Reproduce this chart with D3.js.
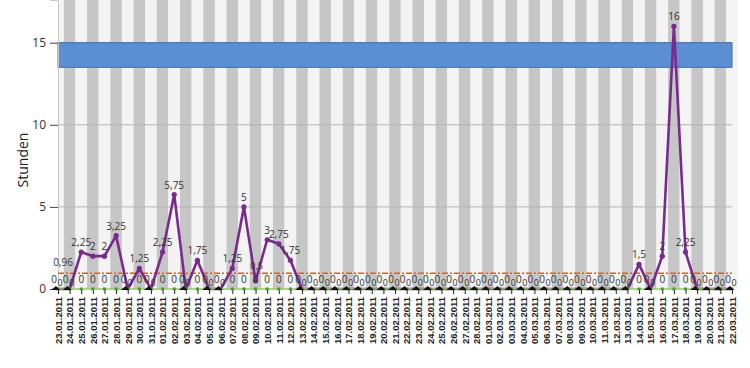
<!DOCTYPE html>
<html>
<head>
<meta charset="utf-8">
<script src="https://cdn.jsdelivr.net/npm/d3@7"></script>
<style>
  body { margin: 0; background: #fff; }
  svg { display: block; }
</style>
</head>
<body>
<div id="vis"></div>
<script>
// chart data
const DAYS = ["23.01.2011","24.01.2011","25.01.2011","26.01.2011","27.01.2011","28.01.2011","29.01.2011",
  "30.01.2011","31.01.2011","01.02.2011","02.02.2011","03.02.2011","04.02.2011","05.02.2011","06.02.2011",
  "07.02.2011","08.02.2011","09.02.2011","10.02.2011","11.02.2011","12.02.2011","13.02.2011","14.02.2011",
  "15.02.2011","16.02.2011","17.02.2011","18.02.2011","19.02.2011","20.02.2011","21.02.2011","22.02.2011",
  "23.02.2011","24.02.2011","25.02.2011","26.02.2011","27.02.2011","28.02.2011","01.03.2011","02.03.2011",
  "03.03.2011","04.03.2011","05.03.2011","06.03.2011","07.03.2011","08.03.2011","09.03.2011","10.03.2011",
  "11.03.2011","12.03.2011","13.03.2011","14.03.2011","15.03.2011","16.03.2011","17.03.2011","18.03.2011",
  "19.03.2011","20.03.2011","21.03.2011","22.03.2011"];
const HOURS = [0, 0, 2.25, 2, 2, 3.25, 0, 1.25, 0, 2.25, 5.75, 0, 1.75, 0, 0, 1.25, 5, 0.5, 3, 2.75, 1.75, 0,
  0, 0, 0, 0, 0, 0, 0, 0, 0, 0, 0, 0, 0, 0, 0, 0, 0, 0, 0, 0, 0, 0, 0, 0, 0, 0, 0, 0,
  1.5, 0, 2, 16, 2.25, 0, 0, 0, 0];
const BASE = [0, 0, 0, 0, 0, 0, 0, 0, 0, 0, 0, 0, 0, 0, 0, 0, 0, 0, 0, 0, 0, 0, 0, 0, 0, 0, 0, 0, 0, 0,
  0, 0, 0, 0, 0, 0, 0, 0, 0, 0, 0, 0, 0, 0, 0, 0, 0, 0, 0, 0, 0, 0, 0, 0, 0, 0, 0, 0, 0];
const AVERAGE = 0.96;
const TARGET_BAND = [13.5, 15];
const Y_TICKS = [0, 5, 10, 15];

// frame constants
const FRAME_WIDTH = 750;
const FRAME_HEIGHT = 368;
const MARGINS = {left: 58, right: 18, top: 0, bottom: 79};
const VIS_HEIGHT = FRAME_HEIGHT - MARGINS.top - MARGINS.bottom;
const FONT = "'Open Sans', 'Liberation Sans', sans-serif";
const fmt = (v) => String(v).replace(".", ",");

const FRAME = d3.select("#vis")
  .append("svg")
  .attr("width", FRAME_WIDTH)
  .attr("height", FRAME_HEIGHT);

const X_SCALE = d3.scalePoint()
  .domain(DAYS)
  .range([MARGINS.left, MARGINS.left + 674]);
const Y_SCALE = d3.scaleLinear()
  .domain([0, 17.6])
  .range([MARGINS.top + VIS_HEIGHT, MARGINS.top]);
const STEP = X_SCALE.step();
const X_END = X_SCALE(DAYS[DAYS.length - 1]);

FRAME.append("clipPath").attr("id", "plot")
  .append("rect")
  .attr("x", MARGINS.left).attr("y", 0)
  .attr("width", 680).attr("height", Y_SCALE(0));

// alternating day stripes
FRAME.append("g").attr("clip-path", "url(#plot)")
  .selectAll("rect")
  .data(DAYS)
  .enter()
  .append("rect")
  .attr("x", (d) => X_SCALE(d) - STEP / 2)
  .attr("y", 0)
  .attr("width", STEP)
  .attr("height", Y_SCALE(0))
  .attr("fill", (d, i) => i % 2 ? "#c6c6c6" : "#f3f3f3");

// grid lines
FRAME.append("g")
  .selectAll("line")
  .data(Y_TICKS.filter((t) => t > 0))
  .enter()
  .append("line")
  .attr("x1", MARGINS.left).attr("x2", X_END)
  .attr("y1", (d) => Y_SCALE(d)).attr("y2", (d) => Y_SCALE(d))
  .attr("stroke", "#b4b4b4").attr("stroke-width", 1);

// target band
FRAME.append("rect")
  .attr("x", MARGINS.left)
  .attr("y", Y_SCALE(TARGET_BAND[1]))
  .attr("width", X_END - MARGINS.left)
  .attr("height", Y_SCALE(TARGET_BAND[0]) - Y_SCALE(TARGET_BAND[1]))
  .attr("fill", "#5b8fd3")
  .attr("stroke", "#3e6eae").attr("stroke-width", 1);

// axes
const yAxis = FRAME.append("g")
  .attr("transform", "translate(" + MARGINS.left + ",0)")
  .call(d3.axisLeft(Y_SCALE).tickValues(Y_TICKS).tickSize(8).tickPadding(4));
yAxis.select(".domain").attr("stroke", "#c8c8c8");
yAxis.selectAll(".tick line").attr("stroke", "#444");
yAxis.selectAll("text").attr("font-family", FONT).attr("font-size", "12px").attr("fill", "#333");

const xAxis = FRAME.append("g")
  .attr("transform", "translate(0," + Y_SCALE(0) + ")")
  .call(d3.axisBottom(X_SCALE).tickSize(5).tickPadding(4));
xAxis.select(".domain").remove();
xAxis.selectAll(".tick line").attr("stroke", "#222");
xAxis.selectAll("text")
  .attr("font-family", "'Liberation Sans', Arial, sans-serif")
  .attr("font-size", "9.5px")
  .attr("font-weight", "bold")
  .attr("fill", "#222")
  .attr("transform", "rotate(-90)")
  .attr("text-anchor", "end")
  .attr("dy", "0.35em")
  .attr("x", -8).attr("y", 0);

FRAME.append("text")
  .attr("transform", "translate(28," + 160 + ") rotate(-90)")
  .attr("text-anchor", "middle")
  .attr("font-family", FONT)
  .attr("font-size", "14px")
  .attr("fill", "#222")
  .text("Stunden");

// average line
FRAME.append("line")
  .attr("x1", MARGINS.left).attr("x2", X_END)
  .attr("y1", Y_SCALE(AVERAGE)).attr("y2", Y_SCALE(AVERAGE))
  .attr("stroke", "#d8651f").attr("stroke-width", 1.6)
  .attr("stroke-dasharray", "6,2,2,2");
FRAME.append("text")
  .attr("x", MARGINS.left + 5).attr("y", Y_SCALE(AVERAGE) - 7)
  .attr("text-anchor", "middle")
  .attr("font-family", FONT).attr("font-size", "10px").attr("fill", "#333")
  .text(fmt(AVERAGE));

// hours line
const line = d3.line()
  .x((d, i) => X_SCALE(DAYS[i]))
  .y((d) => Y_SCALE(d));
FRAME.append("path")
  .datum(HOURS)
  .attr("d", line)
  .attr("fill", "none")
  .attr("stroke", "#7a2a8c")
  .attr("stroke-width", 2.6)
  .attr("stroke-linejoin", "round");

// base line (0)
FRAME.append("path")
  .datum(BASE)
  .attr("d", line)
  .attr("fill", "none")
  .attr("stroke", "#8fd14f")
  .attr("stroke-width", 1.6);
FRAME.append("g")
  .selectAll("rect")
  .data(BASE)
  .enter()
  .append("rect")
  .attr("x", (d, i) => X_SCALE(DAYS[i]) - 1.5)
  .attr("y", (d) => Y_SCALE(d) - 1.5)
  .attr("width", 3).attr("height", 3)
  .attr("fill", "#3f9a3a");

// hours markers
const markers = FRAME.append("g");
HOURS.forEach((d, i) => {
  const x = X_SCALE(DAYS[i]);
  const y = Y_SCALE(d);
  if (d > 0) {
    markers.append("circle").attr("cx", x).attr("cy", y).attr("r", 2.6).attr("fill", "#7a2a8c");
  } else {
    markers.append("path")
      .attr("d", "M" + (x - 7) + "," + (y + 1) + "L" + (x - 2) + "," + (y - 3) + "L" + (x + 2) + "," + (y + 1) + "Z")
      .attr("fill", "#111");
  }
});

// value labels
const labels = FRAME.append("g")
  .attr("font-family", FONT)
  .attr("fill", "#333")
  .attr("text-anchor", "middle");
BASE.forEach((d, i) => {
  const x = X_SCALE(DAYS[i]);
  labels.append("text")
    .attr("x", HOURS[i] > 0 ? x : x - 4)
    .attr("y", Y_SCALE(d) - 6)
    .attr("font-size", "10px")
    .text(fmt(d));
});
HOURS.forEach((d, i) => {
  const x = X_SCALE(DAYS[i]);
  if (d >= 1) {
    labels.append("text")
      .attr("x", x).attr("y", Y_SCALE(d) - 6)
      .attr("font-size", "10px")
      .text(fmt(d));
  } else if (d > 0) {
    // small value: label sits above the zero labels
    labels.append("text")
      .attr("x", x + 1).attr("y", Y_SCALE(d) - 12)
      .attr("font-size", "9px")
      .text(fmt(d));
  } else {
    labels.append("text")
      .attr("x", x + 2).attr("y", Y_SCALE(d) - 3)
      .attr("font-size", "9px")
      .text(fmt(d));
  }
});
</script>
</body>
</html>
